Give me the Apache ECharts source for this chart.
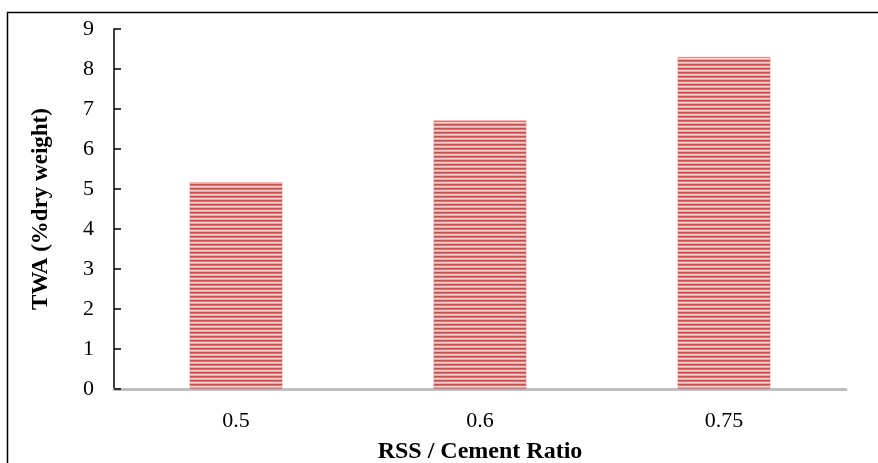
<!DOCTYPE html>
<html><head><meta charset="utf-8">
<script src="https://cdn.jsdelivr.net/npm/echarts@6/dist/echarts.min.js"></script>
<style>html,body{margin:0;padding:0;background:#fff}#c{width:878px;height:463px}</style>
</head><body><div id="c"></div>
<script>
const categories = ['0.5', '0.6', '0.75'];
const twaValues = [5.17, 6.71, 8.3];
const yTicks = [0, 1, 2, 3, 4, 5, 6, 7, 8, 9];

function stripe() {
  const c = document.createElement('canvas');
  c.width = 4; c.height = 4;
  const g = c.getContext('2d');
  g.fillStyle = '#c9504e'; g.fillRect(0, 0, 4, 1);
  g.fillStyle = '#d9706d'; g.fillRect(0, 1, 4, 1);
  g.fillStyle = '#f7d6d5'; g.fillRect(0, 2, 4, 1);
  g.fillStyle = '#eaa9a7'; g.fillRect(0, 3, 4, 1);
  return c;
}

const chart = echarts.init(document.getElementById('c'), null, {renderer: 'canvas'});
const font = 'Liberation Serif';
chart.setOption({
  animation: false,
  grid: {left: 114, right: 32, top: 29, bottom: 74, containLabel: false, outerBoundsMode: 'none'},
  graphic: [{
    type: 'rect', shape: {x: 7.5, y: 12.5, width: 900, height: 500},
    style: {fill: 'none', stroke: '#000', lineWidth: 1.5}, z: 0
  }],
  xAxis: {
    type: 'category', data: categories,
    name: 'RSS / Cement Ratio', nameLocation: 'middle', nameGap: 51,
    nameTextStyle: {fontFamily: font, fontWeight: 'bold', fontSize: 24, color: '#000'},
    axisLine: {lineStyle: {color: '#bfbfbf', width: 3}},
    axisTick: {show: false},
    axisLabel: {fontFamily: font, fontSize: 22, color: '#000', margin: 21}
  },
  yAxis: {
    type: 'value', min: 0, max: 9, interval: 1,
    name: 'TWA (%dry weight)', nameLocation: 'middle', nameGap: 61,
    nameTextStyle: {fontFamily: font, fontWeight: 'bold', fontSize: 23, color: '#000'},
    axisLine: {show: true, lineStyle: {color: '#000', width: 1.5}},
    axisTick: {show: true, inside: true, length: 7, lineStyle: {color: '#000', width: 1.5}},
    splitLine: {show: false},
    axisLabel: {fontFamily: font, fontSize: 22, color: '#000', margin: 20,
      formatter: v => yTicks.includes(v) ? String(v) : ''}
  },
  series: [{
    type: 'bar', data: twaValues, barWidth: '38%',
    itemStyle: {color: {image: stripe(), repeat: 'repeat'}, borderColor: '#d98a88', borderWidth: 0.5}
  }]
});
</script></body></html>
